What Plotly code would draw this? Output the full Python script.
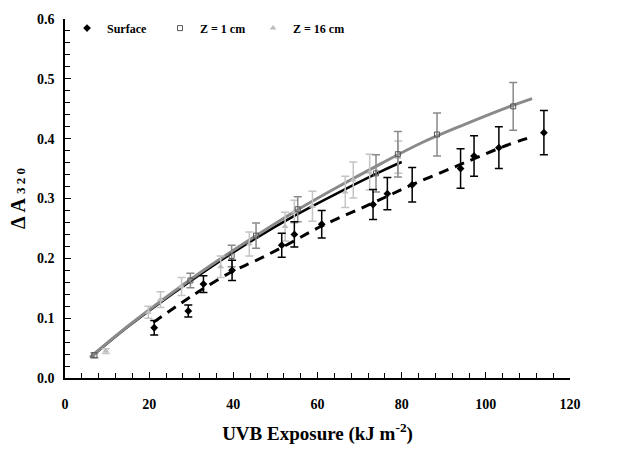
import plotly.graph_objects as go

# Surface (black diamonds)
surf_x = [21.2, 29.3, 32.9, 39.7, 51.5, 54.5, 61.0, 73.2, 76.6, 82.5, 94.0, 97.2, 103.1, 113.8]
surf_y = [0.084, 0.112, 0.157, 0.180, 0.222, 0.240, 0.257, 0.290, 0.308, 0.323, 0.350, 0.371, 0.385, 0.410]
surf_e = [0.012, 0.010, 0.014, 0.017, 0.020, 0.021, 0.023, 0.025, 0.027, 0.029, 0.033, 0.034, 0.035, 0.037]

# Z = 1 cm (open squares)
z1_x = [7.0, 29.8, 39.6, 45.4, 55.3, 73.9, 79.1, 88.4, 106.5]
z1_y = [0.038, 0.163, 0.204, 0.238, 0.282, 0.342, 0.374, 0.407, 0.454]
z1_e = [0.004, 0.012, 0.018, 0.021, 0.021, 0.031, 0.038, 0.036, 0.040]

# Z = 16 cm (triangles)
z16_x = [9.7, 19.8, 22.7, 27.7, 37.0, 43.8, 52.3, 54.5, 58.8, 66.6, 68.5, 72.4, 79.2]
z16_y = [0.045, 0.110, 0.131, 0.153, 0.186, 0.224, 0.253, 0.278, 0.287, 0.311, 0.331, 0.344, 0.369]
z16_e = [0.004, 0.010, 0.013, 0.015, 0.018, 0.020, 0.024, 0.019, 0.025, 0.026, 0.030, 0.030, 0.027]

# Fitted curves
fit_surf_x = [21, 28, 33, 40, 45, 51.5, 61, 73, 82.5, 94, 105, 111]
fit_surf_y = [0.093, 0.127, 0.150, 0.179, 0.195, 0.218, 0.254, 0.292, 0.323, 0.357, 0.389, 0.403]
fit_z1_x = [6, 15, 25, 35, 45, 55, 65, 75, 85, 95, 105, 111]
fit_z1_y = [0.035, 0.087, 0.140, 0.190, 0.236, 0.280, 0.320, 0.358, 0.394, 0.424, 0.452, 0.467]
fit_z16_x = [6, 15, 25, 35, 45, 55, 65, 75, 80]
fit_z16_y = [0.034, 0.086, 0.138, 0.187, 0.232, 0.273, 0.310, 0.345, 0.361]

x_ticks = [0, 20, 40, 60, 80, 100, 120]
y_ticks = [0.0, 0.1, 0.2, 0.3, 0.4, 0.5, 0.6]

FONT = "Liberation Serif"

fig = go.Figure()

fig.add_trace(go.Scatter(x=fit_z16_x, y=fit_z16_y, mode="lines", line=dict(color="#000000", width=2.5, shape="spline"),
                         showlegend=False, hoverinfo="skip"))
fig.add_trace(go.Scatter(x=fit_z1_x, y=fit_z1_y, mode="lines", line=dict(color="#8a8a8a", width=3, shape="spline"),
                         showlegend=False, hoverinfo="skip"))
fig.add_trace(go.Scatter(x=fit_surf_x, y=fit_surf_y, mode="lines",
                         line=dict(color="#000000", width=3, dash="10px,7px", shape="spline"),
                         showlegend=False, hoverinfo="skip"))

fig.add_trace(go.Scatter(x=z16_x, y=z16_y, mode="markers", name="<b>Z = 16 cm</b>",
                         marker=dict(symbol="triangle-up", size=6, color="#bdbdbd"),
                         error_y=dict(type="data", array=z16_e, color="#c4c4c4", thickness=1.5, width=4)))
fig.add_trace(go.Scatter(x=z1_x, y=z1_y, mode="markers", name="<b>Z = 1 cm</b>",
                         marker=dict(symbol="square-open", size=5, color="#555555", line=dict(width=1)),
                         error_y=dict(type="data", array=z1_e, color="#8a8a8a", thickness=1.5, width=4)))
fig.add_trace(go.Scatter(x=surf_x, y=surf_y, mode="markers", name="<b>Surface</b>",
                         marker=dict(symbol="diamond", size=6, color="#000000"),
                         error_y=dict(type="data", array=surf_e, color="#000000", thickness=1.5, width=4)))

fig.update_layout(
    width=619, height=461,
    margin=dict(l=65, r=49, t=16, b=83),
    paper_bgcolor="white", plot_bgcolor="white",
    font=dict(family=FONT, color="black", size=13),
    legend=dict(orientation="h", x=0.004, y=1.015, xanchor="left", yanchor="top",
                traceorder="reversed", font=dict(family=FONT, size=12, color="black"),
                bgcolor="rgba(0,0,0,0)", itemwidth=30, entrywidth=48, entrywidthmode="pixels"),
    showlegend=True,
)

fig.update_xaxes(
    range=[0, 120], tickvals=x_ticks, ticktext=[f"<b>{v}</b>" for v in x_ticks],
    showline=True, linecolor="black", linewidth=1.5, mirror=False,
    ticks="inside", ticklen=6, tickcolor="black", tickwidth=1,
    minor=dict(dtick=4, ticks="inside", ticklen=5, tickcolor="black", tickwidth=1),
    showgrid=False, zeroline=False,
    tickfont=dict(family=FONT, size=14, color="black"),
    title=dict(text="<b>UVB Exposure (kJ m<sup>-2</sup>)</b>", font=dict(family=FONT, size=19, color="black"),
               standoff=16),
    ticklabelstandoff=12,
)
fig.update_yaxes(
    range=[0, 0.6], tickvals=y_ticks, ticktext=[f"<b>{v:.1f}</b>" for v in y_ticks],
    showline=True, linecolor="black", linewidth=1.5, mirror=False,
    ticks="inside", ticklen=6, tickcolor="black", tickwidth=1,
    minor=dict(dtick=0.02, ticks="inside", ticklen=5, tickcolor="black", tickwidth=1),
    showgrid=False, zeroline=False,
    tickfont=dict(family=FONT, size=14, color="black"),
    title=dict(text="<b>Δ A <span style='font-size:13px'>3 2 0</span></b>",
               font=dict(family=FONT, size=20, color="black"), standoff=6),
    ticklabelstandoff=6,
)

fig.write_html("out.html")
